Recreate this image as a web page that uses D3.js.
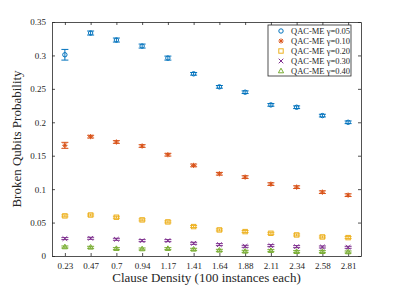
<!DOCTYPE html>
<html>
<head>
<meta charset="utf-8">
<script src="https://cdn.jsdelivr.net/npm/d3@7"></script>
<style>
  body { margin: 0; background: #fff; }
  text { font-family: "Liberation Serif", "DejaVu Serif", serif; fill: #262626; }
</style>
</head>
<body>
<div class="canva"></div>
<script>
// Data
const densities = ['0.23','0.47','0.7','0.94','1.17','1.41','1.64','1.88','2.11','2.34','2.58','2.81'];
const g005 = [0.301,0.3335,0.323,0.314,0.296,0.2725,0.253,0.245,0.226,0.2225,0.21,0.2];
const g010 = [0.1655,0.1785,0.1705,0.1645,0.1515,0.1355,0.123,0.118,0.1075,0.103,0.0955,0.091];
const g020 = [0.06,0.0613,0.058,0.054,0.051,0.044,0.039,0.0365,0.034,0.0315,0.0285,0.0275];
const g030 = [0.026,0.0265,0.025,0.023,0.023,0.019,0.017,0.0145,0.0155,0.014,0.0135,0.013];
const g040 = [0.0135,0.013,0.011,0.0105,0.011,0.01,0.0085,0.007,0.008,0.0065,0.0065,0.006];
const err005 = [0.008,0.003,0.003,0.003,0.003,0.002,0.002,0.002,0.002,0.002,0.002,0.002];
const err010 = [0.0045,0.002,0.002,0.002,0.002,0.002,0.002,0.002,0.002,0.002,0.002,0.002];
const errSmall = [0.0015,0.0015,0.0015,0.0015,0.0015,0.0015,0.0015,0.0015,0.0015,0.0015,0.0015,0.0015];
const yTicks = [0,0.05,0.1,0.15,0.2,0.25,0.3,0.35];

const series = [
  {name:'QAC-ME \u03b3=0.05', vals:g005, err:err005, color:'#0072BD', marker:'circle'},
  {name:'QAC-ME \u03b3=0.10', vals:g010, err:err010, color:'#D95319', marker:'star'},
  {name:'QAC-ME \u03b3=0.20', vals:g020, err:errSmall, color:'#EDB120', marker:'square'},
  {name:'QAC-ME \u03b3=0.30', vals:g030, err:errSmall, color:'#7E2F8E', marker:'cross'},
  {name:'QAC-ME \u03b3=0.40', vals:g040, err:errSmall, color:'#77AC30', marker:'triangle'}
];

const W = 399, H = 288;
const margin = {top: 22, right: 38, bottom: 32, left: 52};
const graphWidth = W - margin.left - margin.right;
const graphHeight = H - margin.top - margin.bottom;

const svg = d3.select('.canva').append('svg')
  .attr('width', W).attr('height', H);

const mainCanvas = svg.append('g')
  .attr('transform', `translate(${margin.left},${margin.top})`);

const x = d3.scaleLinear().domain([0.5, densities.length + 0.5]).range([0, graphWidth]);
const y = d3.scaleLinear().domain([0, 0.35]).range([graphHeight, 0]);

const idx = densities.map((d, i) => i + 1);

// axes (box with inward ticks)
const axisColor = '#262626';
const axBottom = mainCanvas.append('g').attr('transform', `translate(0,${graphHeight})`)
  .call(d3.axisBottom(x).tickValues(idx).tickFormat(i => densities[i - 1]).tickSizeInner(-3).tickSizeOuter(0).tickPadding(7));
const axTop = mainCanvas.append('g')
  .call(d3.axisTop(x).tickValues(idx).tickFormat('').tickSizeInner(-3).tickSizeOuter(0));
const axLeft = mainCanvas.append('g')
  .call(d3.axisLeft(y).tickValues(yTicks).tickFormat(d => d === 0 ? '0' : d3.format('')(d)).tickSizeInner(-3).tickSizeOuter(0).tickPadding(6));
const axRight = mainCanvas.append('g').attr('transform', `translate(${graphWidth},0)`)
  .call(d3.axisRight(y).tickValues(yTicks).tickFormat('').tickSizeInner(-3).tickSizeOuter(0));
[axBottom, axTop, axLeft, axRight].forEach(a => {
  a.selectAll('path, line').attr('stroke', axisColor).attr('stroke-width', 0.8);
  a.selectAll('text').style('font-family', '"Liberation Serif", serif').style('font-size', '9px').attr('fill', '#262626');
});

// error bars + markers
const cap = 3.5;
function drawMarker(g, type, color, cx, cy) {
  if (type === 'circle') {
    g.append('circle').attr('cx', cx).attr('cy', cy).attr('r', 2.2)
      .attr('fill', 'none').attr('stroke', color).attr('stroke-width', 1);
  } else if (type === 'square') {
    g.append('rect').attr('x', cx - 2.2).attr('y', cy - 2.2).attr('width', 4.4).attr('height', 4.4)
      .attr('fill', 'none').attr('stroke', color).attr('stroke-width', 1);
  } else if (type === 'cross') {
    g.append('path').attr('d', `M${cx-2.3},${cy-2.3}L${cx+2.3},${cy+2.3}M${cx-2.3},${cy+2.3}L${cx+2.3},${cy-2.3}`)
      .attr('stroke', color).attr('stroke-width', 1);
  } else if (type === 'star') {
    g.append('path').attr('d', `M${cx-2.6},${cy}L${cx+2.6},${cy}M${cx},${cy-2.6}L${cx},${cy+2.6}M${cx-1.9},${cy-1.9}L${cx+1.9},${cy+1.9}M${cx-1.9},${cy+1.9}L${cx+1.9},${cy-1.9}`)
      .attr('stroke', color).attr('stroke-width', 1);
  } else if (type === 'triangle') {
    g.append('path').attr('d', `M${cx},${cy-2.8}L${cx+2.6},${cy+1.8}L${cx-2.6},${cy+1.8}Z`)
      .attr('fill', 'none').attr('stroke', color).attr('stroke-width', 1);
  }
}

series.forEach(s => {
  const g = mainCanvas.append('g');
  s.vals.forEach((v, i) => {
    const cx = x(i + 1);
    const y1 = y(v + s.err[i]), y2 = y(v - s.err[i]);
    g.append('path')
      .attr('d', `M${cx},${y1}L${cx},${y2}M${cx-cap},${y1}L${cx+cap},${y1}M${cx-cap},${y2}L${cx+cap},${y2}`)
      .attr('stroke', s.color).attr('stroke-width', 1).attr('fill', 'none');
    drawMarker(g, s.marker, s.color, cx, y(v));
  });
});

// labels
svg.append('text')
  .attr('x', margin.left + graphWidth / 2).attr('y', 282)
  .attr('text-anchor', 'middle').style('font-size', '13px')
  .text('Clause Density (100 instances each)');
svg.append('text')
  .attr('transform', `translate(21,${margin.top + graphHeight / 2}) rotate(-90)`)
  .attr('text-anchor', 'middle').style('font-size', '13px')
  .text('Broken Qubits Probability');

// legend
const lg = svg.append('g').attr('transform', 'translate(268,25)');
lg.append('rect').attr('width', 83).attr('height', 51)
  .attr('fill', '#fff').attr('stroke', axisColor).attr('stroke-width', 0.8);
series.forEach((s, i) => {
  const ly = 6 + i * 10;
  drawMarker(lg, s.marker, s.color, 13, ly);
  lg.append('text').attr('x', 23).attr('y', ly + 3)
    .style('font-size', '8.5px').text(s.name);
});
</script>
</body>
</html>
